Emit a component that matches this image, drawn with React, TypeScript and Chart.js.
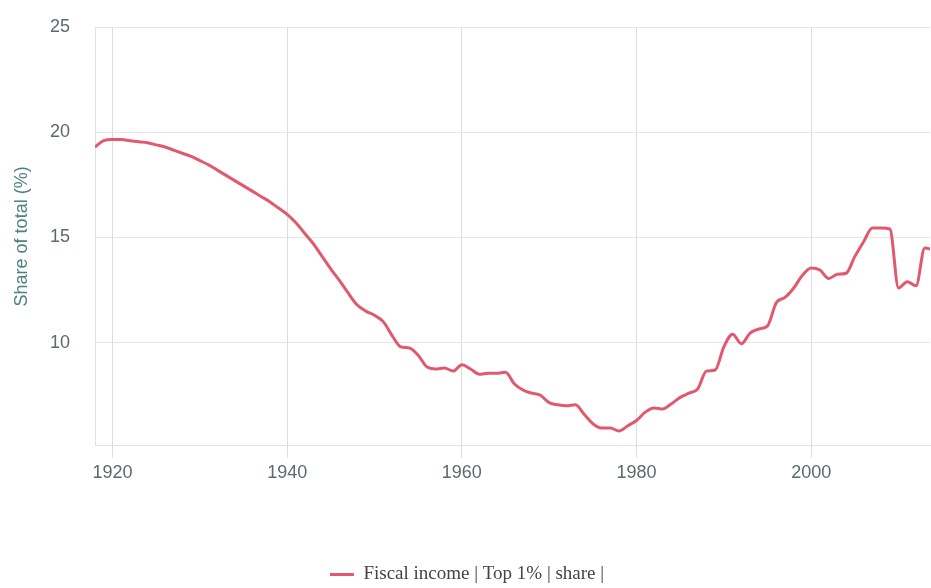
import React, { useEffect, useRef } from "react";
import { Chart, registerables } from "chart.js";

Chart.register(...registerables);

const years: number[] = [
  1918, 1919, 1920, 1921, 1922, 1923, 1924, 1925, 1926, 1927, 1928, 1929,
  1930, 1931, 1932, 1933, 1934, 1935, 1936, 1937, 1938, 1939,
  1940, 1941, 1942, 1943, 1944, 1945, 1946, 1947, 1948, 1949,
  1950, 1951, 1952, 1953, 1954, 1955, 1956, 1957, 1958, 1959,
  1960, 1961, 1962, 1963, 1964, 1965, 1966, 1967, 1968, 1969,
  1970, 1971, 1972, 1973, 1974, 1975, 1976, 1977, 1978, 1979,
  1980, 1981, 1982, 1983, 1984, 1985, 1986, 1987, 1988, 1989,
  1990, 1991, 1992, 1993, 1994, 1995, 1996, 1997, 1998, 1999,
  2000, 2001, 2002, 2003, 2004, 2005, 2006, 2007, 2008, 2009,
  2010, 2011, 2012, 2013, 2014,
];

const top1Share: number[] = [
  19.3, 19.6, 19.65, 19.65, 19.6, 19.55, 19.5, 19.4, 19.3, 19.15, 19.0, 18.85,
  18.65, 18.45, 18.2, 17.95, 17.7, 17.45, 17.2, 16.95, 16.7, 16.4,
  16.1, 15.7, 15.2, 14.7, 14.1, 13.5, 12.95, 12.35, 11.8, 11.5,
  11.3, 11.0, 10.35, 9.8, 9.75, 9.4, 8.85, 8.75, 8.8, 8.65,
  8.95, 8.75, 8.5, 8.55, 8.55, 8.6, 8.05, 7.75, 7.6, 7.5,
  7.15, 7.05, 7.0, 7.05, 6.6, 6.15, 5.95, 5.95, 5.8, 6.05,
  6.3, 6.7, 6.9, 6.85, 7.1, 7.4, 7.6, 7.8, 8.65, 8.7,
  9.8, 10.4, 9.95, 10.45, 10.65, 10.8, 11.9, 12.15, 12.6, 13.2,
  13.55, 13.45, 13.05, 13.25, 13.3, 14.1, 14.8, 15.45, 15.45, 15.4,
  12.6, 12.9, 12.7, 14.5, 14.4,
];

const seriesLabel = "Fiscal income | Top 1% | share |";
const yAxisTitle = "Share of total (%)";
const xMin = 1918;
const xMax = 2013.6;
const yMin = 5.1;
const yMax = 25;

const LINE_COLOR = "#e0596d";

export default function App() {
  const canvasRef = useRef<HTMLCanvasElement | null>(null);

  useEffect(() => {
    if (!canvasRef.current) return;
    const points = years.map((yr, i) => ({ x: yr, y: top1Share[i] }));
    const chart = new Chart(canvasRef.current, {
      type: "line",
      data: {
        datasets: [
          {
            label: seriesLabel,
            data: points,
            borderColor: LINE_COLOR,
            backgroundColor: LINE_COLOR,
            borderWidth: 3,
            pointRadius: 0,
            pointHoverRadius: 0,
            cubicInterpolationMode: "monotone",
            fill: false,
          },
        ],
      },
      options: {
        animation: false,
        responsive: true,
        maintainAspectRatio: false,
        layout: { padding: { top: 27, right: 1, left: 4, bottom: -6 } },
        plugins: {
          tooltip: { enabled: false },
          legend: {
            position: "bottom",
            labels: {
              usePointStyle: true,
              pointStyle: "line",
              pointStyleWidth: 24,
              color: "#444444",
              padding: 5,
              font: { family: "'Liberation Serif', serif", size: 19 },
            },
          },
        },
        scales: {
          x: {
            type: "linear",
            min: xMin,
            max: xMax,
            grid: {
              color: "#dcdce2",
              tickLength: 12,
              drawTicks: true,
            },
            border: { color: "#e2e2e2", width: 1 },
            ticks: {
              stepSize: 20,
              includeBounds: false,
              padding: 4,
              color: "#5b6a6a",
              font: { family: "'Liberation Sans', Arial, sans-serif", size: 18 },
              callback: (v: any) => String(v),
              maxRotation: 0,
            },
            title: {
              display: true,
              text: "",
              padding: { top: 0, bottom: 51 },
              font: { size: 18 },
            },
          },
          y: {
            type: "linear",
            min: yMin,
            max: yMax,
            afterFit: (scale: any) => {
              scale.width = 91;
              scale.paddingTop = 0;
              scale.paddingBottom = 0;
            },
            grid: {
              color: "#e6e6e6",
              drawTicks: false,
            },
            border: { color: "#e2e2e2", width: 1 },
            ticks: {
              stepSize: 5,
              includeBounds: false,
              padding: 25,
              color: "#5b6a6a",
              font: { family: "'Liberation Sans', Arial, sans-serif", size: 18 },
              callback: (v: any) => String(v),
            },
            title: {
              display: true,
              text: yAxisTitle,
              color: "#4e8282",
              padding: { top: 7, bottom: 4 },
              font: { family: "'Liberation Sans', Arial, sans-serif", size: 18 },
            },
          },
        },
      },
    });
    return () => chart.destroy();
  }, []);

  return (
    <div
      style={{
        position: "absolute",
        left: 0,
        top: 0,
        width: 931,
        height: 588,
        background: "#ffffff",
      }}
    >
      <canvas ref={canvasRef} />
    </div>
  );
}
